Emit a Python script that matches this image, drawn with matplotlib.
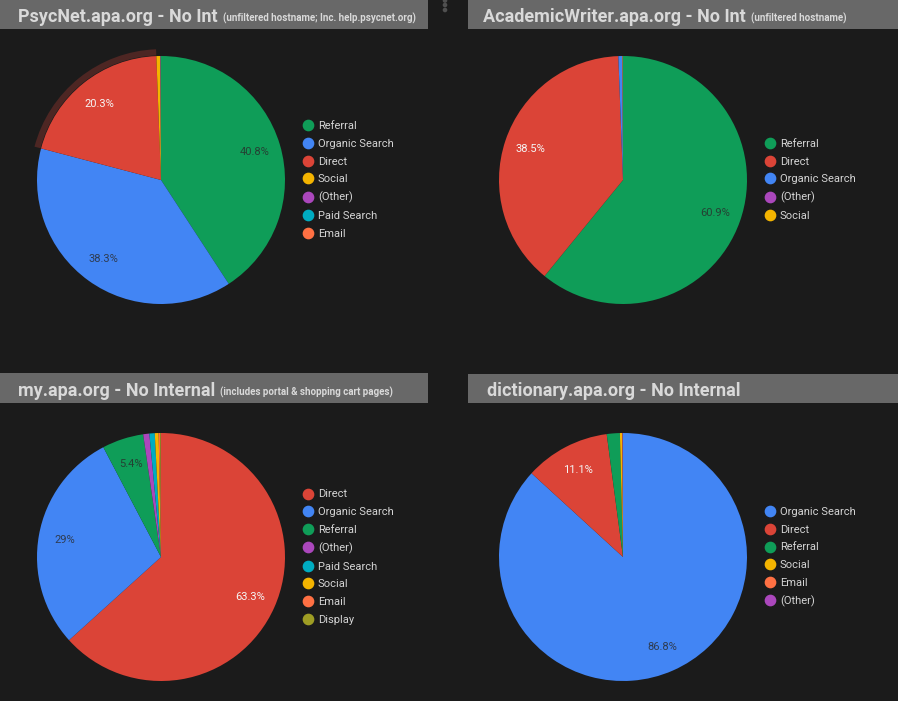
import matplotlib
matplotlib.use("Agg")
import matplotlib.pyplot as plt
from matplotlib.patches import Rectangle, Wedge, Circle
from matplotlib.lines import Line2D

W, H = 898, 701
BG = "#1b1b1b"
BAR = "#686868"
TITLE_C = "#d9d9d9"
TEXT_C = "#d4d4d4"
FONT = "Roboto"

# channel colours (same colour per channel on every panel)
CHANNEL_COLORS = {
    "Referral": "#0f9d58",
    "Organic Search": "#4285f4",
    "Direct": "#db4437",
    "Social": "#f4b400",
    "(Other)": "#ab47bc",
    "Paid Search": "#00acc1",
    "Email": "#ff7043",
    "Display": "#9e9d24",
}

# --- data ---
psycnet_channels = ["Referral", "Organic Search", "Direct", "Social", "(Other)", "Paid Search", "Email"]
psycnet_share = [40.8, 38.3, 20.3, 0.5, 0.05, 0.03, 0.02]

writer_channels = ["Referral", "Direct", "Organic Search", "(Other)", "Social"]
writer_share = [60.9, 38.5, 0.5, 0.05, 0.05]

myapa_channels = ["Direct", "Organic Search", "Referral", "(Other)", "Paid Search", "Social", "Email", "Display"]
myapa_share = [63.3, 29.0, 5.4, 0.8, 0.7, 0.5, 0.2, 0.1]

dict_channels = ["Organic Search", "Direct", "Referral", "Social", "Email", "(Other)"]
dict_share = [86.8, 11.1, 1.7, 0.3, 0.05, 0.05]

titles = ["PsycNet.apa.org - No Int", "AcademicWriter.apa.org - No Int",
          "my.apa.org - No Internal", "dictionary.apa.org - No Internal"]
subtitles = ["(unfiltered hostname; Inc. help.psycnet.org)", "(unfiltered hostname)",
             "(includes portal & shopping cart pages)", ""]

# layout in pixels: (bar x0, bar x1, bar y0, bar y1, title x, baseline y, pie cx, pie cy)
panels = [
    (0, 428, 0, 29, 18, 22, 161, 180),
    (468, 898, 0, 29, 483, 22, 623, 180),
    (0, 428, 373, 403, 18, 396, 161, 557),
    (468, 898, 374, 403, 487, 396, 623, 557),
]
series = [(psycnet_channels, psycnet_share, "Direct"),
          (writer_channels, writer_share, None),
          (myapa_channels, myapa_share, None),
          (dict_channels, dict_share, None)]

R = 124   # pie radius px
S = 300   # pie axes size px


def fmt_pct(p):
    if p < 5:
        return ""
    return f"{p:.1f}".rstrip("0").rstrip(".") + "%"


fig = plt.figure(figsize=(W / 100, H / 100), dpi=100, facecolor=BG)
bg = fig.add_axes([0, 0, 1, 1])
bg.set_xlim(0, W)
bg.set_ylim(H, 0)
bg.axis("off")

# menu dots between the two top panels
for yy in [0.5, 5, 10]:
    bg.add_patch(Circle((445, yy), 1.6, color="#505050"))

title_texts = []
for (x0, x1, y0, y1, tx, by, cx, cy), title in zip(panels, titles):
    bg.add_patch(Rectangle((x0, y0), x1 - x0, y1 - y0, color=BAR, lw=0))
    t = bg.text(tx, by, title, color=TITLE_C, fontsize=13, fontweight="bold",
                family=FONT, va="baseline", ha="left")
    title_texts.append(t)

for (x0, x1, y0, y1, tx, by, cx, cy), (chans, vals, hl) in zip(panels, series):
    ax = fig.add_axes([(cx - S / 2) / W, 1 - (cy + S / 2) / H, S / W, S / H])
    cols = [CHANNEL_COLORS[c] for c in chans]
    wedges, _, autotexts = ax.pie(vals, colors=cols, startangle=90, counterclock=False,
                                  radius=1, autopct=fmt_pct, pctdistance=0.79,
                                  textprops=dict(fontsize=8, family=FONT))
    for c, at in zip(chans, autotexts):
        if c == "Direct":
            at.set_color("#f5f5f5")
        else:
            at.set_color("#2a2a2a")
            at.set_alpha(0.8)
    if hl is not None:
        w = wedges[chans.index(hl)]
        ax.add_patch(Wedge((0, 0), 1.055, w.theta1, w.theta2, width=0.05,
                           facecolor="#4d2623", edgecolor="none"))
    lim = S / 2 / R
    ax.set_xlim(-lim, lim)
    ax.set_ylim(-lim, lim)
    ax.set_aspect("equal")
    ax.axis("off")

    handles = [Line2D([], [], marker="o", linestyle="", markersize=7.4,
                      markerfacecolor=col, markeredgecolor=col) for col in cols]
    fig.legend(handles, chans, loc="center left",
               bbox_to_anchor=((cx + 147 - 5) / W, 1 - cy / H),
               frameon=False, borderpad=0, borderaxespad=0, handlelength=0.9,
               handletextpad=0.45, labelspacing=0.69,
               prop=dict(family=FONT, size=8), labelcolor=TEXT_C)

# subtitles right after the bold titles
fig.canvas.draw()
renderer = fig.canvas.get_renderer()
for t, sub, p in zip(title_texts, subtitles, panels):
    if not sub:
        continue
    bb = t.get_window_extent(renderer)
    x_px = bb.x1 + 5
    bg.text(x_px, p[5], sub, color=TITLE_C, fontsize=7, fontweight="bold",
            family=FONT, va="baseline", ha="left")

fig.savefig("out.png", dpi=100, facecolor=BG)
